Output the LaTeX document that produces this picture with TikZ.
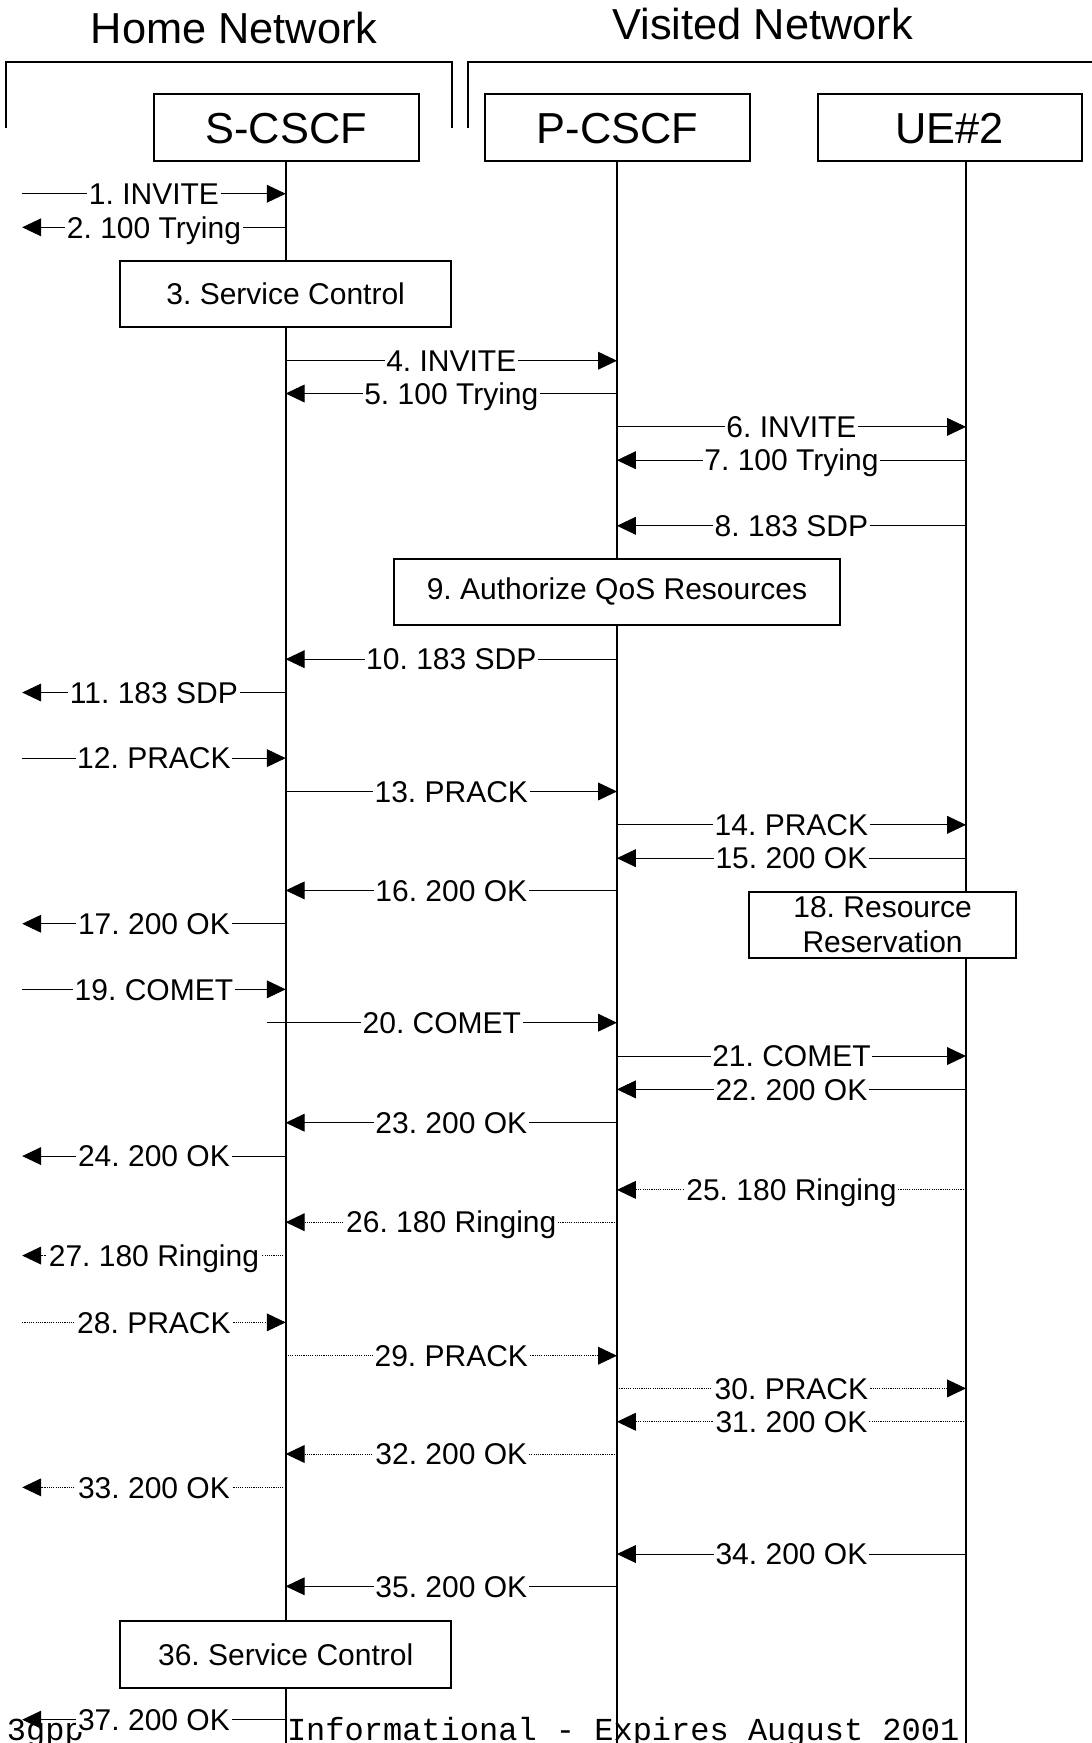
\documentclass[tikz,border=0pt]{standalone}
\usepackage{fontspec}
\setmainfont{Liberation Sans}
\newfontfamily\footmono{Liberation Mono}
\usetikzlibrary{arrows.meta}
\frenchspacing
\tikzset{
  hdr/.style={draw, line width=1.8pt, fill=white, minimum width=238pt, minimum height=60pt, inner sep=0pt, font=\fontsize{39}{44}\selectfont\frenchspacing, text height=28pt, text depth=0pt},
  actbox/.style={draw, line width=1.8pt, fill=white, inner sep=0pt, font=\fontsize{27}{32}\selectfont\frenchspacing, align=center},
  life/.style={line width=1.8pt},
  bracket/.style={line width=1.8pt},
  msg/.style={line width=0.8pt, -{Triangle[length=17pt,width=16pt]}},
  dmsg/.style={msg, dash pattern=on 1pt off 1pt},
  lbl/.style={fill=white, inner xsep=1.5pt, inner ysep=1pt, font=\fontsize{27}{32}\selectfont\frenchspacing, text height=19.3pt, text depth=0pt},
  titletext/.style={font=\fontsize{39}{44}\selectfont, anchor=base, inner sep=0pt},
  foottext/.style={font=\footmono\fontsize{28.8}{30}\selectfont\frenchspacing, anchor=base west, inner sep=0pt},
}
\newcommand\mymsg[6]{%
  \coordinate (#2a) at (#3,#5);
  \coordinate (#2b) at (#4,#5);
  \draw[#1] (#2a) -- node[lbl]{#6} (#2b);}
\begin{document}
\begin{tikzpicture}[x=1pt,y=-1pt]
\useasboundingbox (0,0) rectangle (982,1568);
% network brackets
\coordinate (hb1) at (5,115.5);
\coordinate (hb2) at (5,56);
\coordinate (hb3) at (406.5,56);
\coordinate (hb4) at (406.5,115.5);
\coordinate (vb1) at (421,115.5);
\coordinate (vb2) at (421,56);
\coordinate (vb3) at (982,56);
\draw[bracket] (hb1) -- (hb2) -- (hb3) -- (hb4);
\draw[bracket] (vb1) -- (vb2) -- (vb3);
\node[titletext] (home) at (210.7,39.5) {Home Network};
\node[titletext] (visited) at (686,35.5) {Visited Network};
% footer
\node[foottext] (f0) at (6,1566) {3gpp};
\node[foottext] (f1) at (258,1566) {Informational - Expires August 2001};
% header boxes
\node[hdr] (S) at (257.5,115) {S-CSCF};
\node[hdr] (P) at (555.5,115) {P-CSCF};
\node[hdr] (U) at (854.5,115) {UE\#2};
% lifelines
\coordinate (Stop) at (257,145.5);
\coordinate (Sbot) at (257,1568);
\coordinate (Ptop) at (555,145.5);
\coordinate (Pbot) at (555,1568);
\coordinate (Utop) at (869,145.5);
\coordinate (Ubot) at (869,1568);
\draw[life] (Stop) -- (Sbot);
\draw[life] (Ptop) -- (Pbot);
\draw[life] (Utop) -- (Ubot);
% action boxes
\node[actbox, minimum width=298pt, minimum height=59pt] (b3) at (257,264.5) {3. Service Control};
\node[actbox, minimum width=402pt, minimum height=59pt] (b9) at (555,532.5) {9. Authorize QoS Resources};
\node[actbox, minimum width=240pt, minimum height=60pt] (b18) at (794,832) {18. Resource\\Reservation};
\node[actbox, minimum width=298pt, minimum height=60pt] (b36) at (257,1488.5) {36. Service Control};
% messages
\mymsg{msg}{m1}{20}{257}{174.3}{1. INVITE}
\mymsg{msg}{m2}{257}{20}{204.5}{2. 100 Trying}
\mymsg{msg}{m4}{257}{555}{324.5}{4. INVITE}
\mymsg{msg}{m5}{555}{257}{354}{5. 100 Trying}
\mymsg{msg}{m6}{555}{869}{384}{6. INVITE}
\mymsg{msg}{m7}{869}{555}{414}{7. 100 Trying}
\mymsg{msg}{m8}{869}{555}{473}{8. 183 SDP}
\mymsg{msg}{m10}{555}{257}{593}{10. 183 SDP}
\mymsg{msg}{m11}{257}{20}{623}{11. 183 SDP}
\mymsg{msg}{m12}{20}{257}{682}{12. PRACK}
\mymsg{msg}{m13}{257}{555}{712}{13. PRACK}
\mymsg{msg}{m14}{555}{869}{742}{14. PRACK}
\mymsg{msg}{m15}{869}{555}{772}{15. 200 OK}
\mymsg{msg}{m16}{555}{257}{801}{16. 200 OK}
\mymsg{msg}{m17}{257}{20}{831}{17. 200 OK}
\mymsg{msg}{m19}{20}{257}{890}{19. COMET}
\mymsg{msg}{m20}{240}{555}{920}{20. COMET}
\mymsg{msg}{m21}{555}{869}{950}{21. COMET}
\mymsg{msg}{m22}{869}{555}{980}{22. 200 OK}
\mymsg{msg}{m23}{555}{257}{1010}{23. 200 OK}
\mymsg{msg}{m24}{257}{20}{1040}{24. 200 OK}
\mymsg{dmsg}{m25}{869}{555}{1070.4}{25. 180 Ringing}
\mymsg{dmsg}{m26}{555}{257}{1099.5}{26. 180 Ringing}
\mymsg{dmsg}{m27}{257}{20}{1129.5}{27. 180 Ringing}
\mymsg{dmsg}{m28}{20}{257}{1189.6}{28. PRACK}
\mymsg{dmsg}{m29}{257}{555}{1219.6}{29. PRACK}
\mymsg{dmsg}{m30}{555}{869}{1249}{30. PRACK}
\mymsg{dmsg}{m31}{869}{555}{1279}{31. 200 OK}
\mymsg{dmsg}{m32}{555}{257}{1308}{32. 200 OK}
\mymsg{dmsg}{m33}{257}{20}{1338}{33. 200 OK}
\mymsg{msg}{m34}{869}{555}{1398}{34. 200 OK}
\mymsg{msg}{m35}{555}{257}{1427}{35. 200 OK}
\mymsg{msg}{m37}{257}{20}{1547}{37. 200 OK}
\end{tikzpicture}
\end{document}
